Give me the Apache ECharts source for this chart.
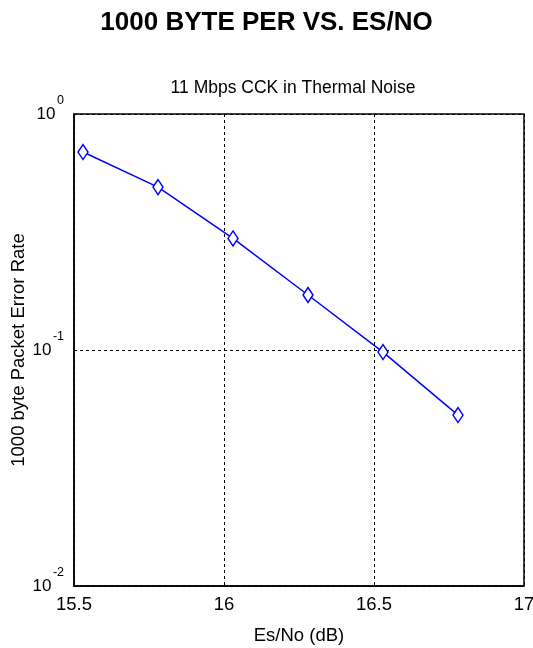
<!DOCTYPE html>
<html>
<head>
<meta charset="utf-8">
<script src="https://cdn.jsdelivr.net/npm/echarts@6/dist/echarts.min.js"></script>
<style>html,body{margin:0;padding:0;background:#fff}#c{width:533px;height:648px}</style>
</head>
<body>
<div id="c"></div>
<script>
var titleText = '1000 BYTE PER VS. ES/NO';
var subtitleText = '11 Mbps CCK in Thermal Noise';
var xName = 'Es/No (dB)';
var yName = '1000 byte Packet Error Rate';
var esno = [15.53, 15.78, 16.03, 16.28, 16.53, 16.78];
var per = [0.69, 0.49, 0.297, 0.171, 0.098, 0.053];
var xTicks = [15.5, 16, 16.5, 17];

var chart = echarts.init(document.getElementById('c'));
var font = 'Liberation Sans, Arial, sans-serif';
chart.setOption({
  backgroundColor: '#fff',
  animation: false,
  title: [
    {text: titleText, left: 'center', top: 5, textStyle: {fontFamily: font, fontSize: 26, fontWeight: 'bold', color: '#000'}},
    {text: subtitleText, left: 288, textAlign: 'center', top: 74, textStyle: {fontFamily: font, fontSize: 17.5, fontWeight: 'normal', color: '#000'}}
  ],
  grid: {left: 74, right: 9, top: 114, bottom: 62, containLabel: false, outerBoundsMode: 'none',
    show: true, borderColor: '#000', borderWidth: 1.5, backgroundColor: 'transparent'},
  xAxis: {
    type: 'value', min: 15.5, max: 17, interval: 0.5,
    name: xName, nameLocation: 'middle', nameGap: 40, nameMoveOverlap: false,
    nameTextStyle: {fontFamily: font, fontSize: 18.5, color: '#000'},
    axisLine: {show: true, lineStyle: {color: '#000', width: 1.5}},
    axisTick: {show: false},
    axisLabel: {fontFamily: font, fontSize: 18.5, color: '#000', margin: 9,
      formatter: function (v) { return xTicks.indexOf(v) >= 0 ? String(v) : ''; }},
    splitLine: {show: true, lineStyle: {color: '#000', type: [3, 3], width: 1}}
  },
  yAxis: {
    type: 'log', logBase: 10, min: 0.01, max: 1,
    name: yName, nameLocation: 'middle', nameGap: 46, nameMoveOverlap: false,
    nameTextStyle: {fontFamily: font, fontSize: 18.5, color: '#000'},
    axisLine: {show: true, lineStyle: {color: '#000', width: 1.5}},
    axisTick: {show: false},
    minorTick: {show: false},
    axisLabel: {fontFamily: font, color: '#000', margin: 10, align: 'right',
      formatter: function (v) {
        var e = Math.round(Math.log10(v));
        var sp = e === 0 ? 'spA' : 'spB';
        return '{s|' + e + '}\n{b|10}{' + sp + '|}\n{e| }';
      },
      rich: {
        b: {fontFamily: font, fontSize: 17, lineHeight: 17, color: '#000', align: 'right'},
        s: {fontFamily: font, fontSize: 12.5, lineHeight: 10, color: '#000', align: 'right'},
        e: {fontSize: 10, lineHeight: 10, align: 'right'},
        spA: {width: 8.5, height: 1, align: 'right'},
        spB: {width: 12.5, height: 1, align: 'right'}
      }
    },
    splitLine: {show: true, lineStyle: {color: '#000', type: [3, 3], width: 1}}
  },
  series: [{
    type: 'line',
    data: esno.map(function (x, i) { return [x, per[i]]; }),
    symbol: 'diamond', symbolSize: [10, 15],
    lineStyle: {color: '#0000ff', width: 1.5},
    itemStyle: {color: '#fff', borderColor: '#0000ff', borderWidth: 1.5},
    z: 5
  }]
});
</script>
</body>
</html>
